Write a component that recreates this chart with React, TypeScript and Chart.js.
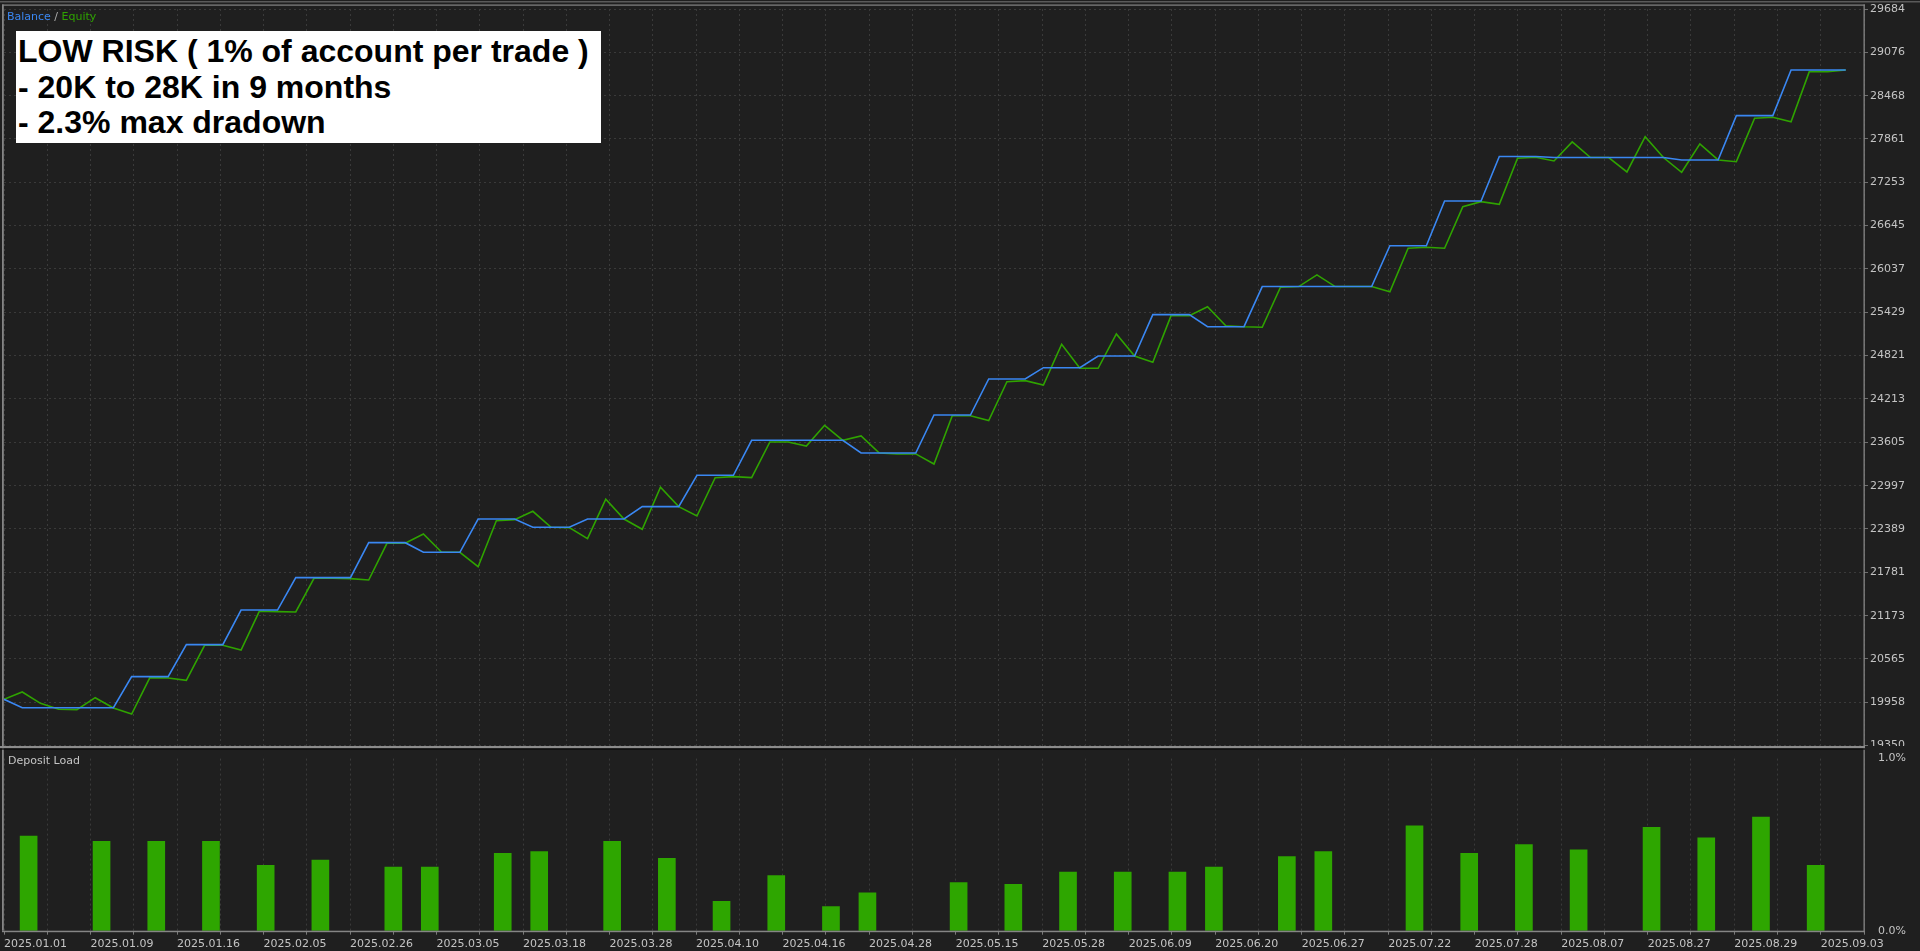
import React, { useEffect, useRef } from 'react';
import { Chart, registerables } from 'chart.js';

Chart.register(...registerables);

// ---------- data ----------
const dealDates = [
  '2025.01.01', '2025.01.09', '2025.01.16', '2025.02.05', '2025.02.26', '2025.03.05',
  '2025.03.18', '2025.03.28', '2025.04.10', '2025.04.16', '2025.04.28', '2025.05.15',
  '2025.05.28', '2025.06.09', '2025.06.20', '2025.06.27', '2025.07.22', '2025.07.28',
  '2025.08.07', '2025.08.27', '2025.08.29', '2025.09.03',
];

const balance = [
  20000, 19882, 19882, 19882, 19882, 19882, 19882, 20317, 20317, 20317,
  20766, 20766, 20766, 21252, 21252, 21252, 21706, 21706, 21706, 21706,
  22197, 22197, 22197, 22062, 22062, 22062, 22529, 22529, 22529, 22413,
  22413, 22413, 22529, 22529, 22529, 22702, 22702, 22702, 23142, 23142,
  23142, 23633, 23633, 23633, 23633, 23633, 23633, 23455, 23455, 23455,
  23455, 23988, 23988, 23988, 24493, 24493, 24493, 24652, 24652, 24652,
  24816, 24816, 24816, 25396, 25396, 25396, 25227, 25227, 25227, 25790,
  25790, 25790, 25790, 25790, 25790, 25790, 26362, 26362, 26362, 26991,
  26991, 26991, 27615, 27615, 27615, 27600, 27600, 27600, 27600, 27600,
  27600, 27600, 27566, 27566, 27566, 28188, 28188, 28188, 28828, 28828,
  28828, 28828,
];

const equity = [
  20000, 20102, 19943, 19859, 19855, 20022, 19878, 19793, 20303, 20299,
  20266, 20757, 20757, 20691, 21234, 21229, 21225, 21697, 21697, 21692,
  21673, 22188, 22188, 22319, 22062, 22062, 21860, 22505, 22520, 22637,
  22413, 22408, 22253, 22806, 22529, 22385, 22974, 22702, 22571, 23109,
  23123, 23109, 23610, 23610, 23553, 23844, 23633, 23694, 23455, 23442,
  23442, 23300, 23978, 23978, 23909, 24456, 24470, 24409, 24980, 24643,
  24643, 25125, 24816, 24728, 25382, 25382, 25508, 25241, 25227, 25219,
  25780, 25790, 25953, 25790, 25790, 25790, 25718, 26327, 26341, 26327,
  26911, 26981, 26944, 27590, 27604, 27552, 27819, 27600, 27600, 27398,
  27893, 27600, 27393, 27791, 27566, 27542, 28151, 28165, 28103, 28805,
  28805, 28828,
];

const loadDeals = [
  1, 5, 8, 11, 14, 17, 21, 23, 27, 29, 33, 36, 39, 42, 45, 47,
  52, 55, 58, 61, 64, 66, 70, 72, 77, 80, 83, 86, 90, 93, 96, 99,
];
const loadPercent = [
  0.55, 0.52, 0.52, 0.52, 0.38, 0.41, 0.37, 0.37, 0.45, 0.46, 0.52, 0.42, 0.17, 0.32, 0.14, 0.22,
  0.28, 0.27, 0.34, 0.34, 0.34, 0.37, 0.43, 0.46, 0.61, 0.45, 0.50, 0.47, 0.60, 0.54, 0.66, 0.38,
];

const balanceTicks = [
  19350, 19958, 20565, 21173, 21781, 22389, 22997, 23605, 24213,
  24821, 25429, 26037, 26645, 27253, 27861, 28468, 29076, 29684,
];
const loadTicks = [0, 1];

const dealSpan = 102; // x extent in deal units
const xGridCount = 43;

// ---------- styles ----------
const BG = '#1f1f1f';
const GRID = '#3a3a3a';
const FRAME = '#858585';
const TEXT = '#c4c4c4';
const BLUE = '#3a87f2';
const GREEN = '#2fa300';
const BAR_GREEN = '#2ea600';
const FONT = { family: 'DejaVu Sans', size: 11 };

const xTickValues = Array.from({ length: xGridCount + 1 }, (_, k) => (k * dealSpan) / xGridCount);

export default function App() {
  const topRef = useRef<HTMLCanvasElement>(null);
  const botRef = useRef<HTMLCanvasElement>(null);

  useEffect(() => {
    const topFrame = {
      id: 'topFrame',
      afterDraw(chart: any) {
        const ctx = chart.ctx;
        const { left, right } = chart.chartArea;
        ctx.save();
        ctx.fillStyle = '#5a5a5a';
        ctx.fillRect(0, 1, chart.width, 1.5);
        ctx.fillStyle = FRAME;
        ctx.fillRect(left - 2, 4.5, right - left + 3, 1.2);
        ctx.fillRect(left - 2, 4.5, 1.8, chart.height);
        ctx.fillRect(right - 0.5, 4.5, 1.3, chart.height);
        ctx.restore();
      },
    };
    const botFrame = {
      id: 'botFrame',
      beforeDraw(chart: any) {
        const ctx = chart.ctx;
        ctx.save();
        ctx.fillStyle = BG;
        ctx.fillRect(0, 0, chart.width, chart.height);
        ctx.restore();
      },
      afterDraw(chart: any) {
        const ctx = chart.ctx;
        const { left, right, bottom } = chart.chartArea;
        ctx.save();
        ctx.fillStyle = FRAME;
        ctx.fillRect(left - 2, 0, 1.8, bottom);
        ctx.fillRect(right - 0.5, 0, 1.3, bottom + 1.5);
        ctx.fillRect(left - 2, bottom, right - left + 3, 1.5);
        ctx.fillStyle = '#8c8c8c';
        ctx.fillRect(0, 0, right + 1, 2.4);
        ctx.fillStyle = '#050505';
        ctx.fillRect(0, 2.4, right + 1, 1.2);
        ctx.restore();
      },
    };

    const c1 = new Chart(topRef.current as HTMLCanvasElement, {
      type: 'line',
      data: {
        datasets: [
          {
            label: 'Balance',
            data: balance.map((v, i) => ({ x: i, y: v })),
            borderColor: BLUE,
            borderWidth: 1.6,
            pointRadius: 0,
            tension: 0,
          },
          {
            label: 'Equity',
            data: equity.map((v, i) => ({ x: i, y: v })),
            borderColor: GREEN,
            borderWidth: 1.6,
            pointRadius: 0,
            tension: 0,
          },
        ],
      },
      options: {
        animation: false,
        responsive: false,
        maintainAspectRatio: false,
        layout: { padding: { left: 4, right: 0, top: 9, bottom: 14.4 } },
        plugins: { legend: { display: false }, tooltip: { enabled: false } },
        scales: {
          x: {
            type: 'linear',
            min: 0,
            max: dealSpan,
            afterBuildTicks: (s: any) => {
              s.ticks = xTickValues.map((v) => ({ value: v }));
            },
            ticks: { display: false },
            grid: { color: GRID, drawTicks: false, lineWidth: 1 },
            border: { display: false, dash: [2, 3] },
          },
          y: {
            position: 'right',
            min: balanceTicks[0],
            max: balanceTicks[balanceTicks.length - 1],
            afterBuildTicks: (s: any) => {
              s.ticks = balanceTicks.map((v) => ({ value: v }));
            },
            afterFit: (s: any) => {
              s.width = 56;
            },
            ticks: {
              color: TEXT,
              font: FONT,
              padding: 2,
              autoSkip: false,
              callback: (v: any) => String(v),
            },
            grid: { color: GRID, tickLength: 4, tickColor: '#6e6e6e', lineWidth: 1 },
            border: { display: false, dash: [2, 3] },
          },
        },
      } as any,
      plugins: [topFrame],
    });

    const c2 = new Chart(botRef.current as HTMLCanvasElement, {
      type: 'bar',
      data: {
        datasets: [
          {
            label: 'Deposit Load',
            data: loadDeals.map((d, i) => ({ x: d + 0.35, y: loadPercent[i] })),
            backgroundColor: BAR_GREEN,
            barThickness: 17,
            borderWidth: 0,
          },
        ],
      },
      options: {
        animation: false,
        responsive: false,
        maintainAspectRatio: false,
        layout: { padding: { left: 4, right: 0, top: 10, bottom: 0 } },
        plugins: { legend: { display: false }, tooltip: { enabled: false } },
        scales: {
          x: {
            type: 'linear',
            offset: false,
            min: 0,
            max: dealSpan,
            afterBuildTicks: (s: any) => {
              s.ticks = xTickValues.map((v) => ({ value: v }));
            },
            afterFit: (s: any) => {
              s.height = 20.3;
            },
            ticks: {
              autoSkip: false,
              maxRotation: 0,
              minRotation: 0,
              align: 'start',
              color: TEXT,
              font: FONT,
              padding: 3,
              callback: (_v: any, idx: number) => (idx % 2 === 0 ? dealDates[idx / 2] : ''),
            },
            grid: { color: GRID, offset: false, tickLength: 4, tickColor: '#7a7a7a', lineWidth: 1 },
            border: { display: false, dash: [2, 3] },
          },
          y: {
            position: 'right',
            min: 0,
            max: 1,
            afterBuildTicks: (s: any) => {
              s.ticks = loadTicks.map((v) => ({ value: v }));
            },
            afterFit: (s: any) => {
              s.width = 56;
            },
            ticks: {
              color: TEXT,
              font: FONT,
              padding: 6,
              callback: (v: any) => Number(v).toFixed(1) + '%',
            },
            grid: { display: false },
            border: { display: false },
          },
        },
      } as any,
      plugins: [botFrame],
    });

    return () => {
      c1.destroy();
      c2.destroy();
    };
  }, []);

  return (
    <div
      style={{
        position: 'fixed',
        left: 0,
        top: 0,
        width: 1920,
        height: 951,
        background: BG,
        overflow: 'hidden',
      }}
    >
      <canvas
        ref={topRef}
        width={1920}
        height={760}
        style={{ position: 'absolute', left: 0, top: 0, width: 1920, height: 760 }}
      />
      <canvas
        ref={botRef}
        width={1920}
        height={205}
        style={{ position: 'absolute', left: 0, top: 746, width: 1920, height: 205 }}
      />
      <div
        style={{
          position: 'absolute',
          left: 7,
          top: 10,
          font: '11px "DejaVu Sans", sans-serif',
          lineHeight: '14px',
          color: TEXT,
          whiteSpace: 'nowrap',
        }}
      >
        <span style={{ color: BLUE }}>Balance</span>
        <span style={{ color: '#b0b0b0' }}> / </span>
        <span style={{ color: GREEN }}>Equity</span>
      </div>
      <div
        style={{
          position: 'absolute',
          left: 16,
          top: 31,
          width: 585,
          height: 112,
          boxSizing: 'border-box',
          background: '#ffffff',
          padding: '3px 0 0 2px',
          font: 'bold 32px "Liberation Sans", Arial, sans-serif',
          lineHeight: '35.5px',
          color: '#000000',
          whiteSpace: 'nowrap',
        }}
      >
        <div>LOW RISK ( 1% of account per trade )</div>
        <div>- 20K to 28K in 9 months</div>
        <div>- 2.3% max dradown</div>
      </div>
      <div
        style={{
          position: 'absolute',
          left: 8,
          top: 754,
          font: '11px "DejaVu Sans", sans-serif',
          lineHeight: '14px',
          color: TEXT,
          whiteSpace: 'nowrap',
        }}
      >
        Deposit Load
      </div>
    </div>
  );
}
